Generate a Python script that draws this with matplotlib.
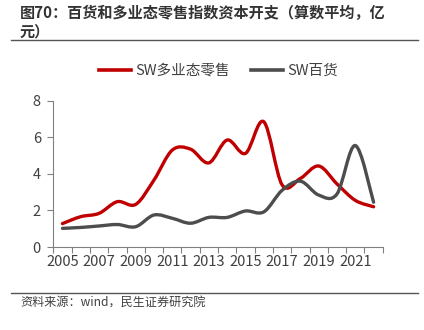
import matplotlib
matplotlib.use("Agg")
import matplotlib.pyplot as plt
from matplotlib.path import Path
from matplotlib.patches import PathPatch
from matplotlib.lines import Line2D
import numpy as np

plt.rcParams['font.family'] = ['Noto Sans CJK SC', 'DejaVu Sans']

years = list(range(2005, 2023))
tick_labels = [str(y) for y in range(2005, 2022, 2)]
multi_retail = [1.28, 1.66, 1.84, 2.48, 2.33, 3.66, 5.3, 5.35, 4.6, 5.85, 5.12, 6.85,
                3.4, 3.75, 4.43, 3.45, 2.55, 2.2]
dept_store = [1.02, 1.07, 1.15, 1.23, 1.11, 1.75, 1.57, 1.3, 1.62, 1.62, 1.97, 1.92,
              3.1, 3.6, 2.84, 2.9, 5.55, 2.45]

red = '#C00000'
gray = '#4D4D4D'


def smooth_path(xs, ys):
    # Catmull-Rom style smoothing, drawn as cubic Bezier segments
    pts = np.column_stack([xs, ys]).astype(float)
    n = len(pts)
    verts = [pts[0]]
    codes = [Path.MOVETO]
    for i in range(n - 1):
        p0 = pts[i - 1] if i > 0 else pts[i]
        p1 = pts[i]
        p2 = pts[i + 1]
        p3 = pts[i + 2] if i + 2 < n else pts[i + 1]
        c1 = p1 + (p2 - p0) / 6
        c2 = p2 - (p3 - p1) / 6
        verts += [c1, c2, p2]
        codes += [Path.CURVE4] * 3
    return Path(verts, codes)


fig = plt.figure(figsize=(4.24, 3.30), dpi=100)
ax = fig.add_axes([0.1257, 0.2515, 0.777, 0.4433])

x = np.arange(len(years))
for vals, col in [(multi_retail, red), (dept_store, gray)]:
    ax.add_patch(PathPatch(smooth_path(x, vals), facecolor='none', edgecolor=col,
                           lw=2.4, capstyle='round', joinstyle='round'))

ax.set_xlim(-0.5, len(years) - 0.5)
ax.set_ylim(0, 8)
ax.set_yticks([0, 2, 4, 6, 8])
ax.set_xticks(np.arange(0, len(years), 2))
ax.set_xticklabels(tick_labels)
ax.set_xticks(np.arange(-0.5, len(years), 1), minor=True)
ax.tick_params(axis='x', which='major', length=0, pad=6, labelsize=10.5, colors='#404040')
ax.tick_params(axis='x', which='minor', length=4, width=0.8, color='#808080')
ax.tick_params(axis='y', length=4, width=0.8, color='#808080', labelsize=10.5,
               labelcolor='#404040', pad=5)
for s in ['top', 'right']:
    ax.spines[s].set_visible(False)
for s in ['left', 'bottom']:
    ax.spines[s].set_color('#808080')
    ax.spines[s].set_linewidth(0.8)

handles = [Line2D([], [], color=red, lw=2.6), Line2D([], [], color=gray, lw=2.6)]
fig.legend(handles, ['SW多业态零售', 'SW百货'], loc='center', bbox_to_anchor=(0.515, 0.785),
           ncol=2, frameon=False, fontsize=10.5, handlelength=2.2, columnspacing=1.4,
           handletextpad=0.3, labelcolor='#404040')

fig.text(0.047, 0.96, '图70：百货和多业态零售指数资本开支（算数平均，亿', fontsize=10.9,
         fontweight='bold', color='#333333', va='center', ha='left')
fig.text(0.047, 0.905, '元）', fontsize=10.9, fontweight='bold', color='#333333',
         va='center', ha='left')
fig.add_artist(Line2D([0.026, 0.986], [0.878, 0.878], color='#555555', lw=1.0))
fig.add_artist(Line2D([0.026, 0.986], [0.113, 0.113], color='#555555', lw=1.0))
fig.text(0.047, 0.082, '资料来源：wind，民生证券研究院', fontsize=8.7, color='#404040',
         va='center', ha='left')

fig.savefig('out.png', dpi=100)
